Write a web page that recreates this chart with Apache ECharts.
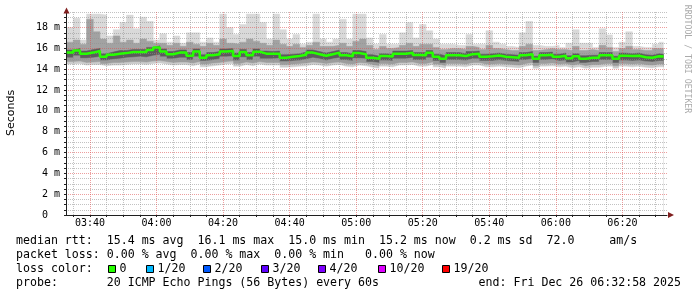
<!DOCTYPE html>
<html>
<head>
<meta charset="UTF-8">
<title>smokeping</title>
<style>
  html, body { margin: 0; padding: 0; background: #fff; }
  #chart { width: 697px; height: 297px; }
</style>
<script src="https://cdn.jsdelivr.net/npm/echarts@6/dist/echarts.min.js"></script>
</head>
<body>
<div id="chart"></div>
<script>
// one sample every 2 minutes, time in minutes after midnight
var startMin = 213;
var stepMin = 2;
var xLabels = ['03:40', '04:00', '04:20', '04:40', '05:00', '05:20', '05:40', '06:00', '06:20'];

// median rtt (ms)
var median = [
  15.6, 15.8, 15.5, 15.6, 15.75, 15.2, 15.4, 15.5, 15.55, 15.65,
  15.65, 15.65, 15.85, 16.1, 15.7, 15.45, 15.6, 15.6, 15.3, 15.7,
  15.1, 15.35, 15.45, 15.7, 15.75, 15.27, 15.66, 15.34, 15.69, 15.5,
  15.48, 15.5, 15.1, 15.2, 15.27, 15.4, 15.6, 15.45, 15.3, 15.45,
  15.6, 15.35, 15.25, 15.55, 15.45, 15.1, 15.0, 15.27, 15.22, 15.5,
  15.5, 15.58, 15.38, 15.35, 15.58, 15.2, 15.0, 15.35, 15.35, 15.27,
  15.45, 15.5, 15.2, 15.25, 15.33, 15.2, 15.15, 15.1, 15.35, 15.45,
  15.0, 15.35, 15.4, 15.2, 15.3, 15.05, 15.25, 15.0, 15.1, 15.1,
  15.35, 15.35, 15.0, 15.3, 15.27, 15.3, 15.15, 15.1, 15.25, 15.22
];
// smoke: fastest ping
var minV = [
  14.45, 14.5, 14.35, 14.4, 14.4, 14.3, 14.35, 14.35, 14.4, 14.45,
  14.45, 14.4, 14.5, 14.55, 14.45, 14.35, 14.4, 14.4, 14.3, 14.45,
  14.2, 14.3, 14.35, 14.45, 14.5, 14.25, 14.4, 14.3, 14.45, 14.35,
  14.35, 14.35, 14.15, 14.2, 14.25, 14.3, 14.4, 14.35, 14.25, 14.35,
  14.4, 14.25, 14.2, 14.35, 14.3, 14.15, 14.05, 14.25, 14.2, 14.35,
  14.35, 14.4, 14.25, 14.25, 14.4, 14.2, 14.05, 14.25, 14.25, 14.2,
  14.35, 14.35, 14.2, 14.2, 14.25, 14.2, 14.15, 14.1, 14.25, 14.35,
  14.05, 14.25, 14.3, 14.2, 14.25, 14.1, 14.2, 14.05, 14.15, 14.15,
  14.25, 14.25, 14.05, 14.25, 14.2, 14.25, 14.15, 14.1, 14.2, 14.2
];
// smoke: lower edge of the middle band
var loV = [
  14.7, 14.75, 14.6, 14.65, 14.7, 14.5, 14.6, 14.6, 14.65, 14.7,
  14.7, 14.65, 14.75, 14.8, 14.7, 14.6, 14.65, 14.65, 14.55, 14.7,
  14.45, 14.55, 14.6, 14.7, 14.75, 14.5, 14.65, 14.55, 14.7, 14.6,
  14.6, 14.6, 14.4, 14.45, 14.5, 14.55, 14.65, 14.6, 14.5, 14.6,
  14.65, 14.5, 14.45, 14.6, 14.55, 14.4, 14.3, 14.5, 14.45, 14.6,
  14.6, 14.65, 14.5, 14.5, 14.65, 14.45, 14.3, 14.5, 14.5, 14.45,
  14.6, 14.6, 14.45, 14.45, 14.5, 14.45, 14.4, 14.35, 14.5, 14.6,
  14.3, 14.5, 14.55, 14.45, 14.5, 14.35, 14.45, 14.3, 14.4, 14.4,
  14.5, 14.5, 14.3, 14.5, 14.45, 14.5, 14.4, 14.35, 14.45, 14.45
];
// smoke: dark core, lower edge
var darkLo = [
  15.1, 15.3, 15.05, 15.1, 15.2, 14.85, 14.95, 15.0, 15.1, 15.15,
  15.2, 15.15, 15.3, 15.4, 15.2, 15.0, 15.1, 15.1, 14.9, 15.2,
  14.8, 14.9, 15.0, 15.2, 15.25, 14.85, 15.15, 14.9, 15.2, 15.0,
  15.0, 15.05, 14.75, 14.8, 14.85, 14.95, 15.1, 15.0, 14.85, 15.0,
  15.1, 14.9, 14.8, 15.05, 15.0, 14.7, 14.6, 14.85, 14.8, 15.0,
  15.0, 15.1, 14.9, 14.9, 15.1, 14.8, 14.6, 14.9, 14.9, 14.85,
  15.0, 15.0, 14.8, 14.8, 14.9, 14.8, 14.75, 14.7, 14.9, 15.0,
  14.6, 14.9, 14.95, 14.8, 14.85, 14.65, 14.8, 14.6, 14.7, 14.7,
  14.9, 14.9, 14.6, 14.85, 14.8, 14.85, 14.75, 14.7, 14.8, 14.8
];
// smoke: dark core, upper edge
var darkHi = [
  15.85, 16.0, 15.75, 15.9, 16.0, 15.5, 15.65, 15.8, 15.8, 15.9,
  15.9, 15.9, 16.1, 16.25, 15.95, 15.7, 15.85, 15.85, 15.6, 15.95,
  15.4, 15.6, 15.7, 15.95, 16.0, 15.55, 15.9, 15.6, 15.95, 15.75,
  15.7, 15.75, 15.4, 15.45, 15.5, 15.65, 15.85, 15.7, 15.55, 15.7,
  15.85, 15.6, 15.5, 15.8, 15.7, 15.4, 15.25, 15.5, 15.45, 15.75,
  15.75, 15.8, 15.6, 15.6, 15.8, 15.45, 15.3, 15.6, 15.6, 15.5,
  15.7, 15.75, 15.45, 15.5, 15.55, 15.45, 15.4, 15.35, 15.6, 15.7,
  15.25, 15.6, 15.65, 15.45, 15.55, 15.3, 15.5, 15.3, 15.35, 15.35,
  15.6, 15.6, 15.25, 15.55, 15.5, 15.55, 15.4, 15.35, 15.5, 15.45
];
// smoke: upper edge of the middle band
var hiV = [
  16.6, 16.8, 16.4, 18.8, 17.6, 16.9, 16.5, 17.2, 16.6, 16.8,
  16.5, 16.9, 16.7, 16.5, 16.5, 16.3, 16.5, 16.2, 16.6, 16.4,
  16.2, 16.5, 16.3, 16.9, 16.5, 16.4, 16.6, 16.9, 16.7, 16.5,
  16.3, 16.8, 16.4, 16.2, 16.4, 16.1, 16.3, 16.6, 16.2, 16.2,
  16.3, 16.5, 16.2, 16.7, 16.9, 16.3, 15.9, 16.2, 16.0, 16.1,
  16.3, 16.5, 16.2, 16.4, 16.4, 16.1, 15.9, 16.0, 16.0, 15.9,
  16.2, 16.1, 15.9, 16.3, 16.0, 15.9, 15.8, 15.8, 16.2, 16.4,
  15.8, 15.9, 16.0, 15.9, 15.9, 15.8, 16.2, 15.8, 15.9, 15.8,
  16.3, 16.1, 15.7, 16.0, 16.2, 15.9, 15.8, 15.8, 16.0, 16.0
];
// smoke: slowest ping
var maxV = [
  18.0, 18.9, 16.8, 19.3, 19.3, 19.2, 17.2, 17.8, 18.5, 19.2,
  17.9, 19.0, 18.6, 16.8, 17.4, 16.6, 17.2, 16.5, 17.5, 17.5,
  16.6, 17.0, 16.6, 19.3, 18.0, 17.35, 18.3, 19.3, 19.3, 18.5,
  16.9, 19.3, 17.8, 16.9, 17.35, 16.4, 16.6, 19.3, 16.9, 16.6,
  16.9, 18.8, 16.9, 19.3, 19.3, 17.0, 16.4, 17.35, 16.4, 16.4,
  17.5, 18.5, 17.0, 18.3, 17.7, 16.9, 16.4, 16.4, 16.3, 16.3,
  17.35, 16.4, 16.4, 17.7, 16.6, 16.4, 16.2, 16.1, 17.5, 18.6,
  16.3, 16.2, 16.2, 16.3, 16.1, 16.5, 17.8, 16.5, 16.5, 16.1,
  17.9, 17.3, 16.1, 16.6, 17.6, 16.2, 16.1, 16.1, 16.4, 16.6
];

var lossLabels = ['0', '1/20', '2/20', '3/20', '4/20', '10/20', '19/20'];
var lossColors = ['#26ff00', '#00b8ff', '#0059ff', '#5e00ff', '#7e00ff', '#dd00ff', '#ff0000'];

// rrdtool-like grid colours, drawn over the smoke
var MAJOR = 'rgba(222,79,79,0.55)';
var MINOR = 'rgba(143,143,143,0.55)';
var AXIS = '#1f1f1f';
var ARROW = '#801f1f';
var MONO = '"DejaVu Sans Mono", monospace';

function toMin(s) { var p = s.split(':'); return +p[0] * 60 + +p[1]; }
function toHHMM(v) {
  var h = Math.floor(v / 60), m = Math.round(v % 60);
  return (h < 10 ? '0' : '') + h + ':' + (m < 10 ? '0' : '') + m;
}
var labelTimes = xLabels.map(toMin);
var gridTimes = [];
for (var t = 215; t <= 390; t += 5) gridTimes.push(t);

function pts(vals) {
  var out = vals.map(function (v, i) { return [startMin + i * stepMin, v]; });
  out.push([startMin + vals.length * stepMin - 0.6, vals[vals.length - 1]]);
  return out;
}
// smoke layers are painted from the slowest down, each filled to the axis
function layer(vals, color, z) {
  return {
    type: 'line', step: 'end', symbol: 'none', silent: true, z: z,
    lineStyle: { color: color, width: 0.5 },
    areaStyle: { color: color, opacity: 1, origin: 'start' },
    data: pts(vals)
  };
}

var legendRows = [
  [16, 241, 'median rtt:  15.4 ms avg  16.1 ms max  15.0 ms min  15.2 ms now  0.2 ms sd  72.0     am/s'],
  [16, 255, 'packet loss: 0.00 % avg  0.00 % max  0.00 % min   0.00 % now'],
  [16, 269, 'loss color:'],
  [16, 283, 'probe:       20 ICMP Echo Pings (56 Bytes) every 60s']
];
var squareX = [108, 146, 203, 261, 318, 378, 442];

var graphics = [];
legendRows.forEach(function (r) {
  graphics.push({ type: 'text', x: r[0], y: r[1],
    style: { text: r[2], font: '11.6px ' + MONO, fill: '#000', verticalAlign: 'middle' } });
});
graphics.push({ type: 'text', x: 681, y: 283,
  style: { text: 'end: Fri Dec 26 06:32:58 2025', font: '11.6px ' + MONO, fill: '#000',
    align: 'right', verticalAlign: 'middle' } });
lossLabels.forEach(function (lab, i) {
  graphics.push({ type: 'rect', shape: { x: squareX[i] + 0.5, y: 265.5, width: 7, height: 7 },
    style: { fill: lossColors[i], stroke: '#000', lineWidth: 1 } });
  graphics.push({ type: 'text', x: squareX[i] + 11.5, y: 269,
    style: { text: lab, font: '11.6px ' + MONO, fill: '#000', verticalAlign: 'middle' } });
});
graphics.push({ type: 'text', x: 11, y: 113, rotation: Math.PI / 2,
  style: { text: 'Seconds', font: '11px "DejaVu Sans", sans-serif', fill: '#000',
    align: 'center', verticalAlign: 'middle' } });
graphics.push({ type: 'text', x: 687, y: 59, rotation: -Math.PI / 2,
  style: { text: 'RRDTOOL / TOBI OETIKER', font: '8.2px ' + MONO, fill: '#aaaaaa',
    align: 'center', verticalAlign: 'middle' } });
// axis arrows
graphics.push({ type: 'polygon', z: 10, shape: { points: [[63.5, 13.5], [69.5, 13.5], [66.5, 7.5]] },
  style: { fill: ARROW } });
graphics.push({ type: 'polygon', z: 10, shape: { points: [[668, 212], [668, 218], [674, 215]] },
  style: { fill: ARROW } });

var chart = echarts.init(document.getElementById('chart'));
chart.setOption({
  animation: false,
  backgroundColor: '#fff',
  grid: { left: 66, top: 12, bottom: 82, right: 30 },
  xAxis: {
    type: 'value', min: 212.8, max: 393.4, z: 6,
    axisLine: { show: true, lineStyle: { color: AXIS, width: 1 } },
    axisTick: { show: true, customValues: gridTimes, length: 2, lineStyle: { color: AXIS } },
    axisLabel: { customValues: labelTimes, formatter: toHHMM, fontFamily: MONO, fontSize: 10,
      color: '#000', margin: 3 },
    splitLine: { show: true, lineStyle: { color: [MINOR, MAJOR, MINOR, MINOR], type: [1, 1], width: 1 } }
  },
  yAxis: {
    type: 'value', min: 0, max: 19.5, interval: 0.5, z: 6,
    axisLine: { show: true, lineStyle: { color: AXIS, width: 1 } },
    axisTick: { show: true, length: 2, lineStyle: { color: AXIS } },
    axisLabel: {
      fontFamily: MONO, fontSize: 10, color: '#000', margin: 6,
      formatter: function (v) {
        if (Math.abs(v % 2) > 1e-6) return '';
        return v === 0 ? '0  ' : v + ' m';
      }
    },
    splitLine: { show: true, lineStyle: { color: [MAJOR, MINOR, MINOR, MINOR], type: [1, 1], width: 1 } }
  },
  graphic: graphics,
  series: [
    layer(maxV, '#d9d9d9', 1),
    layer(hiV, '#a2a2a2', 2),
    layer(darkHi, '#5c5c5c', 3),
    layer(darkLo, '#9c9c9c', 4),
    layer(loV, '#cccccc', 4.5),
    layer(minV, '#ffffff', 5),
    {
      type: 'line', step: 'end', symbol: 'none', silent: true, z: 8,
      lineStyle: { color: lossColors[0], width: 2.5 },
      data: pts(median)
    }
  ]
});
</script>
</body>
</html>
